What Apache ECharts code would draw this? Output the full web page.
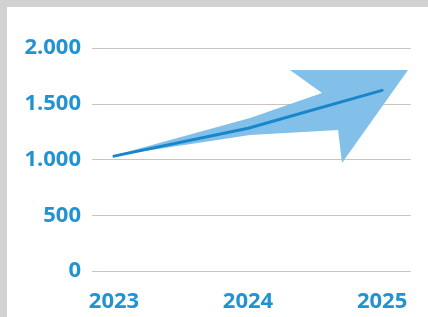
<!DOCTYPE html>
<html>
<head>
<meta charset="utf-8">
<script src="https://cdn.jsdelivr.net/npm/echarts@6/dist/echarts.min.js"></script>
<style>
  html, body { margin: 0; padding: 0; width: 428px; height: 317px; background: #d2d2d3; overflow: hidden; }
  #chart { position: absolute; left: 7px; top: 7px; width: 421px; height: 310px; background: #ffffff; }
</style>
</head>
<body>
<div id="chart"></div>
<script>
// Data
const years = [2023, 2024, 2025];
const values = [1030, 1280, 1620];
const yTicks = [0, 500, 1000, 1500, 2000];
// Decorative arrow outline, in data units (year, value)
const arrowYears  = [2022.985, 2024.015, 2024.552, 2024.313, 2025.194, 2024.701, 2024.672, 2024.015];
const arrowValues = [1031,     1372,     1596,     1803,     1803,     969,      1265,     1220];

const blue = '#2193d2';
const fmtThousands = v => String(v).replace(/\B(?=(\d{3})+(?!\d))/g, '.');

const chart = echarts.init(document.getElementById('chart'), null, { renderer: 'canvas' });
chart.setOption({
  animation: false,
  backgroundColor: '#ffffff',
  grid: { left: 85, right: 17, top: 41, bottom: 46, containLabel: false },
  xAxis: {
    type: 'value',
    min: 2022.836,
    max: 2025.216,
    axisLine: { show: false },
    axisTick: { show: false },
    splitLine: { show: false },
    axisLabel: {
      customValues: years,
      formatter: v => String(Math.round(v)),
      color: blue,
      fontFamily: 'Open Sans',
      fontWeight: 'bold',
      fontSize: 22,
      margin: 20
    }
  },
  yAxis: {
    type: 'value',
    min: yTicks[0],
    max: yTicks[yTicks.length - 1],
    interval: 500,
    axisLine: { show: false },
    axisTick: { show: false },
    splitLine: { lineStyle: { color: '#cbc3bd', width: 1 } },
    axisLabel: {
      formatter: v => fmtThousands(v),
      color: blue,
      fontFamily: 'Open Sans',
      fontWeight: 'bold',
      fontSize: 22,
      margin: 11
    }
  },
  series: [
    {
      type: 'custom',
      z: 1,
      silent: true,
      data: arrowYears.map((x, i) => [x, arrowValues[i]]),
      renderItem: (params, api) => {
        if (params.dataIndex !== 0) return null;
        const pts = arrowYears.map((x, i) => api.coord([x, arrowValues[i]]));
        return {
          type: 'polygon',
          shape: { points: pts },
          style: { fill: '#82c0e9' }
        };
      }
    },
    {
      type: 'line',
      z: 3,
      data: years.map((y, i) => [y, values[i]]),
      symbol: 'none',
      lineStyle: { color: '#1786cb', width: 3, cap: 'round' }
    }
  ]
});
</script>
</body>
</html>
